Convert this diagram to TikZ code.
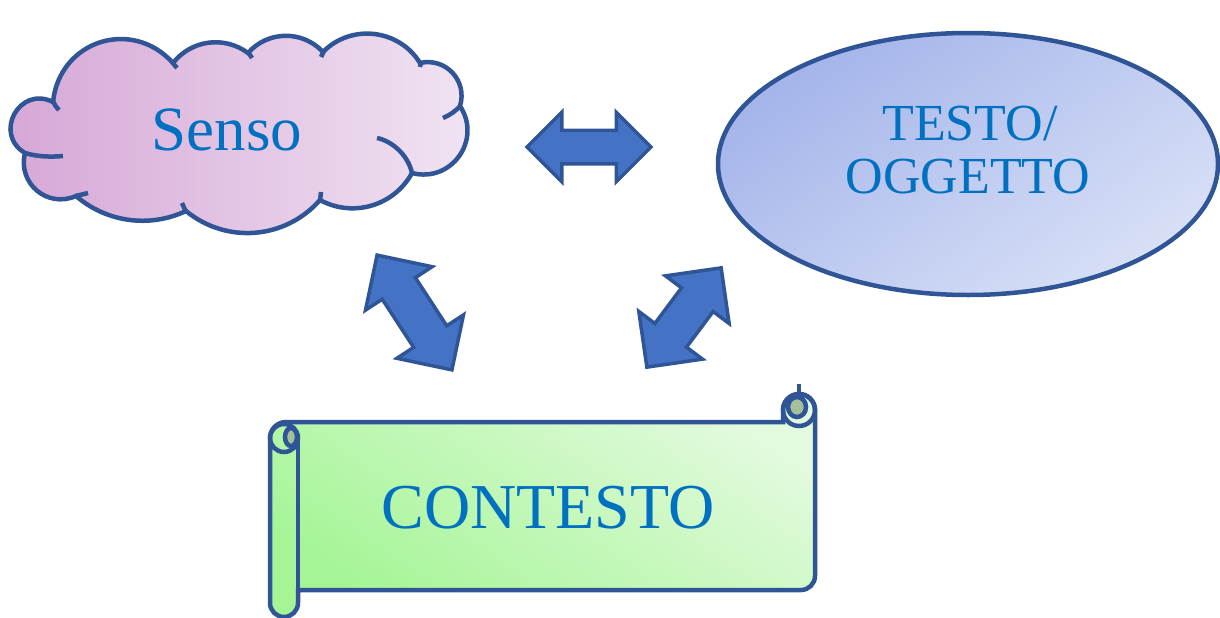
\documentclass[tikz,border=0pt]{standalone}
\usepackage{fontspec}
\setmainfont{Liberation Serif}
\usetikzlibrary{shapes.geometric,shapes.arrows}
\definecolor{outl}{HTML}{2F5597}
\definecolor{afill}{HTML}{4472C4}
\definecolor{tblue}{HTML}{0070C0}
\definecolor{cloudL}{HTML}{D5A5D6}
\definecolor{cloudR}{HTML}{F1E5F3}
\definecolor{ellA}{HTML}{A4B4EA}
\definecolor{ellB}{HTML}{D8E0F6}
\definecolor{scrA}{HTML}{A5F596}
\definecolor{scrB}{HTML}{E2FADD}
\definecolor{curl}{HTML}{A6C09C}
\tikzset{
  outline/.style={draw=outl, line width=4.5pt},
  barrow/.style={double arrow, draw=outl, fill=afill, line width=3.5pt,
    inner xsep=0pt, minimum width=0pt, double arrow head indent=0pt,
    double arrow tip angle=90},
  label/.style={text=tblue, inner sep=0pt},
}
\begin{document}
\begin{tikzpicture}[x=1pt,y=-1pt]
\useasboundingbox (0,0) rectangle (1220,618);
% cloud
\shade[outline, left color=cloudL, right color=cloudR]
  (25,153) to[bend left=88, looseness=1.65] (53,102)
  to[bend left=66, looseness=1.25] (173,63)
  to[bend left=44, looseness=1.0] (248,53)
  to[bend left=48, looseness=1.02] (323,52)
  to[bend left=52, looseness=1.05] (420,63)
  to[bend left=60, looseness=1.15] (460,106)
  to[bend left=69, looseness=1.26] (412,173)
  to[bend left=45, looseness=1.0] (320,200)
  to[bend left=44, looseness=1.0] (186,211)
  to[bend left=33, looseness=0.93] (76,196)
  to[bend left=64, looseness=1.2] (25,153) -- cycle;
\draw[outline] (25,153) .. controls (38,157) and (52,157) .. (63,156);
\draw[outline] (53,101) .. controls (54,104) and (56,107) .. (59,110);
\draw[outline] (172,62) -- (177,68);
\draw[outline] (248,52) -- (252,58);
\draw[outline] (324,51) -- (321,57);
\draw[outline] (421,62) -- (420,67);
\draw[outline] (461,105) .. controls (456,111) and (450,115) .. (443,118);
\draw[outline] (377,138) .. controls (392,141) and (408,155) .. (412,173);
\draw[outline] (320,201) -- (321,192);
\draw[outline] (186,212) -- (182,203);
\draw[outline] (76,196) -- (88,193);
\coordinate (senso) at (243,135);
\node[label, anchor=base, font=\fontsize{63}{63}\selectfont] (sensotxt) at (227,150) {Senso};
% ellipse
\node[ellipse, outline, top color=ellA, bottom color=ellB, shading angle=35,
  minimum width=500pt, minimum height=262pt] (testo) at (968,164) {};
\node[label, anchor=base, font=\fontsize{52}{52}\selectfont] (testo1) at (970,140) {TESTO/};
\node[label, anchor=base, font=\fontsize{52}{52}\selectfont] (testo2) at (968,193) {OGGETTO};
% scroll
\shade[outline, bottom color=scrA, top color=scrB, shading angle=-35]
  (270,603) -- (270,438) .. controls (270,429.16) and (277.16,422) .. (286,422)
  -- (783,422) -- (783,410)
  .. controls (783,401.16) and (790.16,394) .. (799,394)
  .. controls (807.84,394) and (815,401.16) .. (815,410)
  -- (815,576) .. controls (815,583.73) and (808.73,590) .. (801,590)
  -- (298,590) -- (298,603)
  .. controls (298,610.73) and (291.73,617) .. (284,617)
  .. controls (276.27,617) and (270,610.73) .. (270,603) -- cycle;
\draw[outline] (298,438) -- (298,590);
\draw[outline] (284,438) circle[radius=14pt];
\draw[outline, fill=curl] (291,437) ellipse[x radius=6pt, y radius=9pt];
\draw[outline] (799,410) circle[radius=16pt];
\draw[outline, fill=curl] (797,407) ellipse[x radius=9pt, y radius=10pt];
\draw[outline] (799,384) -- (799,398);
\coordinate (scroll) at (542,505);
\node[label, anchor=base, font=\fontsize{64}{64}\selectfont] (contesto) at (548,528) {CONTESTO};
% arrows
\node[barrow, inner ysep=15pt, double arrow head extend=18pt, minimum height=124pt] (a1) at (589,147) {};
\node[barrow, rotate=-56.9, inner ysep=18pt, double arrow head extend=20pt, minimum height=137pt] (a2) at (414.5,312.5) {};
\node[barrow, rotate=53.2, inner ysep=18pt, double arrow head extend=20pt, minimum height=124pt] (a3) at (684,317.5) {};
\end{tikzpicture}
\end{document}
